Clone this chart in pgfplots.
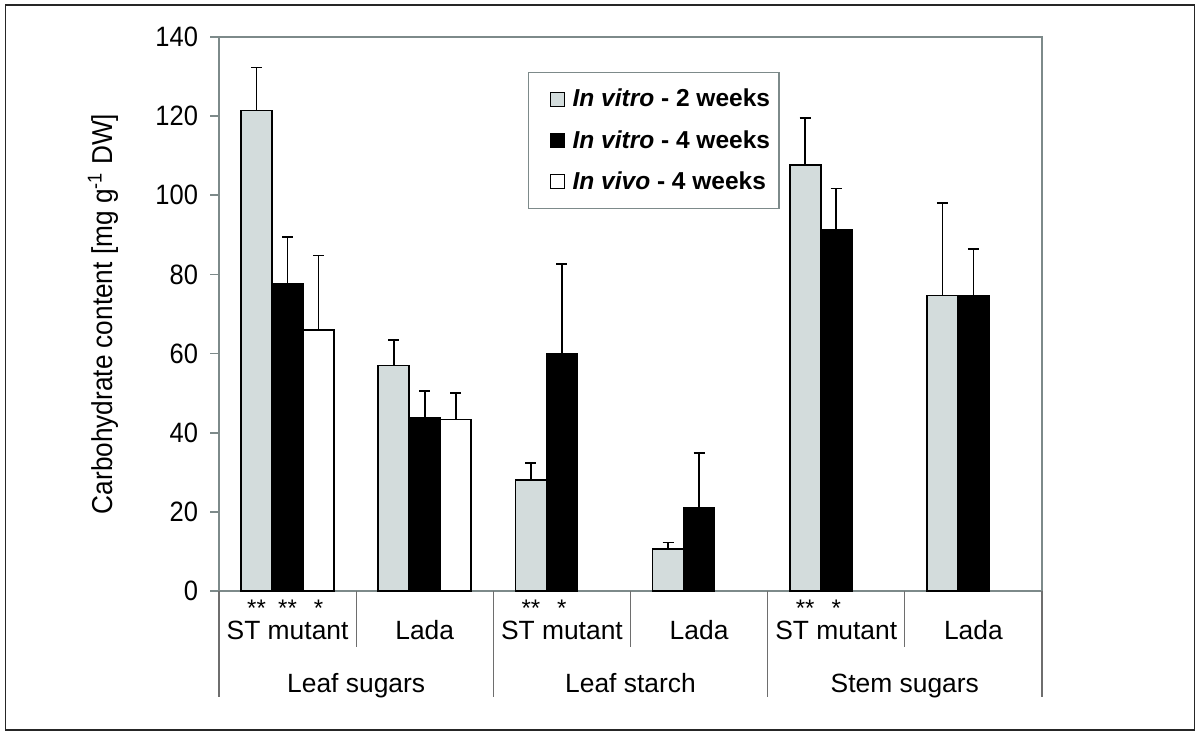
\documentclass[border=0pt]{standalone}
\usepackage{fontspec}
\setmainfont{Liberation Sans}
\newfontfamily\narrowfont{Liberation Sans}[FakeStretch=0.91]
\usepackage{pgfplots}
\pgfplotsset{compat=1.18}
\definecolor{barGray}{RGB}{211,220,220}
\definecolor{axisGray}{RGB}{125,138,138}
\definecolor{sepGray}{RGB}{110,110,110}

\begin{document}
\begin{tikzpicture}
\path (0pt,0pt) rectangle (600pt,368pt);
\draw[black!85, line width=0.7pt] (2.7pt,3pt) rectangle (597.2pt,365.5pt);
\begin{axis}[
  at={(109.5pt,72.5pt)}, anchor=south west,
  scale only axis, width=411.5pt, height=277pt,
  xmin=-0.5, xmax=5.5, ymin=0, ymax=140,
  ytick={0,20,...,140},
  xtick=\empty,
  axis line style={axisGray, line width=0.8pt},
  y tick style={axisGray, line width=0.8pt},
  tick align=outside, major tick length=4.5pt,
  ytick pos=left,
  /pgf/number format/assume math mode=true,
  yticklabel style={font=\narrowfont\fontsize{14}{16}\selectfont, xshift=-2.5pt},
  ylabel={\narrowfont\fontsize{14.4}{17}\selectfont Carbohydrate content [mg g\textsuperscript{-1} DW]},
  every axis y label/.style={at={(rel axis cs:0,0.5)}, rotate=90, anchor=center, yshift=58pt},
  ybar=0pt, bar width=15.5pt,
  clip=false,
  legend cell align=left,
  legend style={at={(0.3755,0.937)}, anchor=north west, draw=axisGray, line width=0.6pt,
    font=\bfseries\fontsize{12.25}{14}\selectfont, row sep=6.2pt, inner xsep=2.5pt, inner ysep=6.3pt},
]
\addplot[fill=barGray, draw=black, line width=0.8pt,
  legend image code/.code={\path[draw=none, fill=none] (0pt,0pt) -- (17.5pt,0pt); \draw[fill=barGray, draw=black, line width=0.5pt] (8.5pt,-3.5pt) rectangle (15.5pt,3.5pt);},
  error bars/.cd, y dir=plus, y explicit,
  error bar style={black, line width=0.8pt},
  error mark options={rotate=90, mark size=2.75pt, black, line width=0.8pt}]
  coordinates {(0,121.4) +- (0,10.9) (1,57.0) +- (0,6.5) (2,28.0) +- (0,4.3)
               (3,10.6) +- (0,1.7) (4,107.7) +- (0,11.8) (5,74.7) +- (0,23.3)};
\addlegendentry{\textit{In vitro} - 2 weeks}
\addplot[fill=black, draw=black, line width=0.8pt,
  legend image code/.code={\path[draw=none, fill=none] (0pt,0pt) -- (17.5pt,0pt); \draw[fill=black, draw=black, line width=0.5pt] (8.5pt,-3.5pt) rectangle (15.5pt,3.5pt);},
  error bars/.cd, y dir=plus, y explicit,
  error bar style={black, line width=0.8pt},
  error mark options={rotate=90, mark size=2.75pt, black, line width=0.8pt}]
  coordinates {(0,77.6) +- (0,11.8) (1,43.8) +- (0,6.7) (2,60.0) +- (0,22.7)
               (3,21.0) +- (0,13.9) (4,91.2) +- (0,10.5) (5,74.7) +- (0,11.8)};
\addlegendentry{\textit{In vitro} - 4 weeks}
\addplot[fill=white, draw=black, line width=0.8pt,
  legend image code/.code={\path[draw=none, fill=none] (0pt,0pt) -- (17.5pt,0pt); \draw[fill=white, draw=black, line width=0.5pt] (8.5pt,-3.5pt) rectangle (15.5pt,3.5pt);},
  error bars/.cd, y dir=plus, y explicit,
  error bar style={black, line width=0.8pt},
  error mark options={rotate=90, mark size=2.75pt, black, line width=0.8pt}]
  coordinates {(0,66.0) +- (0,18.8) (1,43.3) +- (0,6.7)};
\addlegendentry{\textit{In vivo} - 4 weeks}

% category separators
\draw[sepGray, line width=0.6pt] (axis cs:0.5,0) -- ++(0pt,-28pt);
\draw[sepGray, line width=0.6pt] (axis cs:2.5,0) -- ++(0pt,-28pt);
\draw[sepGray, line width=0.6pt] (axis cs:4.5,0) -- ++(0pt,-28pt);
\draw[sepGray, line width=0.6pt] (axis cs:-0.5,0) -- ++(0pt,-53pt);
\draw[sepGray, line width=0.6pt] (axis cs:1.5,0) -- ++(0pt,-53pt);
\draw[sepGray, line width=0.6pt] (axis cs:3.5,0) -- ++(0pt,-53pt);
\draw[sepGray, line width=0.6pt] (axis cs:5.5,0) -- ++(0pt,-53pt);
% sub-category labels
\node[anchor=base, inner sep=0pt, font=\fontsize{13.2}{15}\selectfont] at ([yshift=-24pt]axis cs:0,0) {ST mutant};
\node[anchor=base, inner sep=0pt, font=\fontsize{13.2}{15}\selectfont] at ([yshift=-24pt]axis cs:1,0) {Lada};
\node[anchor=base, inner sep=0pt, font=\fontsize{13.2}{15}\selectfont] at ([yshift=-24pt]axis cs:2,0) {ST mutant};
\node[anchor=base, inner sep=0pt, font=\fontsize{13.2}{15}\selectfont] at ([yshift=-24pt]axis cs:3,0) {Lada};
\node[anchor=base, inner sep=0pt, font=\fontsize{13.2}{15}\selectfont] at ([yshift=-24pt]axis cs:4,0) {ST mutant};
\node[anchor=base, inner sep=0pt, font=\fontsize{13.2}{15}\selectfont] at ([yshift=-24pt]axis cs:5,0) {Lada};
% group labels
\node[anchor=base, inner sep=0pt, font=\fontsize{13.2}{15}\selectfont] at ([yshift=-50.5pt]axis cs:0.5,0) {Leaf sugars};
\node[anchor=base, inner sep=0pt, font=\fontsize{13.2}{15}\selectfont] at ([yshift=-50.5pt]axis cs:2.5,0) {Leaf starch};
\node[anchor=base, inner sep=0pt, font=\fontsize{13.2}{15}\selectfont] at ([yshift=-50.5pt]axis cs:4.5,0) {Stem sugars};
% significance marks
\node[anchor=base, inner sep=0pt, font=\fontsize{12}{14}\selectfont] at ([yshift=-12.5pt]axis cs:-0.226,0) {**};
\node[anchor=base, inner sep=0pt, font=\fontsize{12}{14}\selectfont] at ([yshift=-12.5pt]axis cs:0,0) {**};
\node[anchor=base, inner sep=0pt, font=\fontsize{12}{14}\selectfont] at ([yshift=-12.5pt]axis cs:0.226,0) {*};
\node[anchor=base, inner sep=0pt, font=\fontsize{12}{14}\selectfont] at ([yshift=-12.5pt]axis cs:1.774,0) {**};
\node[anchor=base, inner sep=0pt, font=\fontsize{12}{14}\selectfont] at ([yshift=-12.5pt]axis cs:2,0) {*};
\node[anchor=base, inner sep=0pt, font=\fontsize{12}{14}\selectfont] at ([yshift=-12.5pt]axis cs:3.774,0) {**};
\node[anchor=base, inner sep=0pt, font=\fontsize{12}{14}\selectfont] at ([yshift=-12.5pt]axis cs:4,0) {*};
\end{axis}
\end{tikzpicture}
\end{document}
